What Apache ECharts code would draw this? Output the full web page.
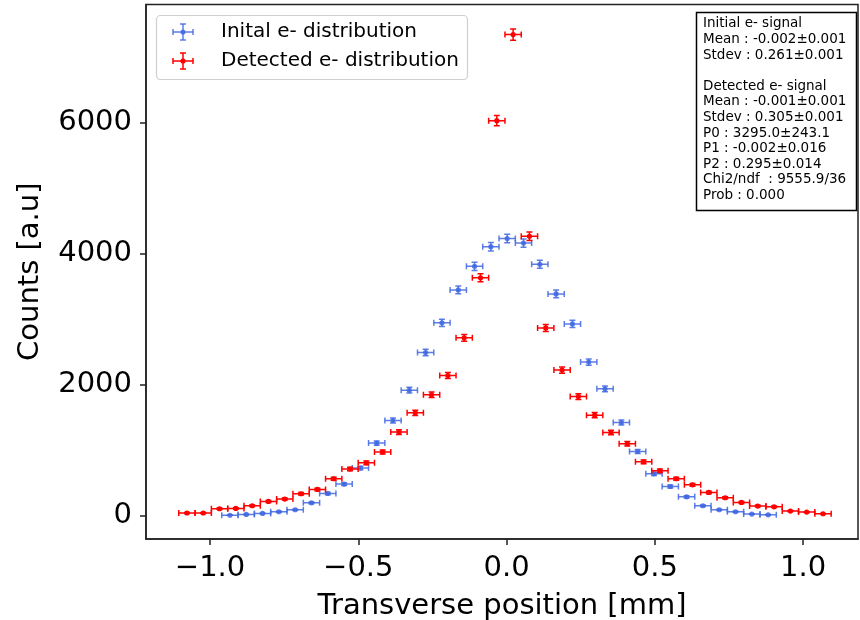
<!DOCTYPE html>
<html>
<head>
<meta charset="utf-8">
<script src="https://cdn.jsdelivr.net/npm/echarts@6/dist/echarts.min.js"></script>
<style>html,body{margin:0;padding:0;background:#fff}#c{width:860px;height:620px}</style>
</head>
<body>
<div id="c"></div>
<script>
// ---- data ----
const initialX = [-0.933,-0.878,-0.823,-0.768,-0.713,-0.658,-0.603,-0.548,-0.493,-0.438,-0.383,-0.328,-0.273,-0.218,-0.163,-0.108,-0.053,0.002,0.057,0.112,0.167,0.222,0.277,0.332,0.387,0.442,0.497,0.552,0.607,0.662,0.717,0.772,0.827,0.882];
const initialCounts = [3,15,30,56,87,193,335,479,723,1105,1450,1914,2488,2942,3445,3805,4105,4230,4160,3837,3384,2926,2342,1934,1420,977,636,442,285,148,87,56,21,10];
const detectedX = [-1.078,-1.023,-0.968,-0.913,-0.858,-0.803,-0.748,-0.693,-0.638,-0.583,-0.528,-0.473,-0.418,-0.363,-0.308,-0.253,-0.198,-0.143,-0.088,-0.033,0.022,0.077,0.132,0.187,0.242,0.297,0.352,0.407,0.462,0.517,0.572,0.627,0.682,0.737,0.792,0.847,0.902,0.957,1.012,1.067];
const detectedCounts = [37,37,102,107,148,214,250,331,397,560,708,804,968,1273,1568,1843,2137,2713,3630,6030,7345,4265,2865,2220,1815,1532,1267,1095,820,682,560,468,351,270,198,143,132,67,51,26];
const binHalfWidth = 0.0275;
const xTicks = [-1.0,-0.5,0.0,0.5,1.0];
const yTicks = [0,2000,4000,6000];
const seriesNames = ['Inital e- distribution','Detected e- distribution'];
const statsLines = ['Initial e- signal','Mean : -0.002±0.001','Stdev : 0.261±0.001','','Detected e- signal','Mean : -0.001±0.001','Stdev : 0.305±0.001','P0 : 3295.0±243.1','P1 : -0.002±0.016','P2 : 0.295±0.014','Chi2/ndf  : 9555.9/36','Prob : 0.000'];

const BLUE = 'rgba(65,105,225,0.85)';
const RED = '#ff0000';
const FONT = 'DejaVu Sans';

function build(xs, ys){
  return xs.map((x,i)=>[x, ys[i], binHalfWidth, Math.sqrt(ys[i])]);
}

function errRender(color){
  return function(params, api){
    const x = api.value(0), y = api.value(1), ex = api.value(2), ey = api.value(3);
    const c = api.coord([x,y]);
    const l = api.coord([x-ex,y]);
    const r = api.coord([x+ex,y]);
    const t = api.coord([x,y+ey]);
    const b = api.coord([x,y-ey]);
    const cap = 3;
    const st = {stroke: color, lineWidth: 1.5};
    const children = [
      {type:'line', shape:{x1:l[0],y1:c[1],x2:r[0],y2:c[1]}, style:st},
      {type:'line', shape:{x1:l[0],y1:c[1]-cap,x2:l[0],y2:c[1]+cap}, style:st},
      {type:'line', shape:{x1:r[0],y1:c[1]-cap,x2:r[0],y2:c[1]+cap}, style:st},
      {type:'line', shape:{x1:c[0],y1:t[1],x2:c[0],y2:b[1]}, style:st},
      {type:'line', shape:{x1:c[0]-cap,y1:t[1],x2:c[0]+cap,y2:t[1]}, style:st},
      {type:'line', shape:{x1:c[0]-cap,y1:b[1],x2:c[0]+cap,y2:b[1]}, style:st},
      {type:'circle', shape:{cx:c[0],cy:c[1],r:2.6}, style:{fill:color}}
    ];
    return {type:'group', children};
  };
}

function legendIcon(cx, cy, color){
  const st = {stroke: color, lineWidth: 1.5};
  return [
    {type:'line', shape:{x1:cx-10,y1:cy,x2:cx+10,y2:cy}, style:st},
    {type:'line', shape:{x1:cx-10,y1:cy-3,x2:cx-10,y2:cy+3}, style:st},
    {type:'line', shape:{x1:cx+10,y1:cy-3,x2:cx+10,y2:cy+3}, style:st},
    {type:'line', shape:{x1:cx,y1:cy-8,x2:cx,y2:cy+8}, style:st},
    {type:'line', shape:{x1:cx-3,y1:cy-8,x2:cx+3,y2:cy-8}, style:st},
    {type:'line', shape:{x1:cx-3,y1:cy+8,x2:cx+3,y2:cy+8}, style:st},
    {type:'circle', shape:{cx:cx,cy:cy,r:2.6}, style:{fill:color}}
  ];
}

const chart = echarts.init(document.getElementById('c'), null, {renderer:'canvas'});
const option = {
  animation: false,
  backgroundColor: '#fff',
  grid: {left:146, right:2, top:4.5, bottom:81, containLabel:false, outerBoundsMode:'none',
         show:true, borderColor:'#222', borderWidth:1.5, backgroundColor:'transparent'},
  xAxis: {
    type:'value', min:-1.216, max:1.185,
    name:'Transverse position [mm]', nameLocation:'middle', nameGap:53,
    nameTextStyle:{fontFamily:FONT, fontSize:29, color:'#000'},
    axisLine:{show:true, onZero:false, lineStyle:{color:'#222', width:1.5}},
    axisTick:{show:true, customValues:xTicks, length:6, lineStyle:{color:'#222', width:1.5}},
    axisLabel:{show:true, customValues:xTicks, margin:15, fontFamily:FONT, fontSize:29, color:'#000',
      formatter:(v)=> (v<0?'\u2212':'') + Math.abs(v).toFixed(1)},
    splitLine:{show:false}
  },
  yAxis: {
    type:'value', min:-360, max:7805,
    name:'Counts [a.u]', nameLocation:'middle', nameGap:101, nameRotate:90,
    nameTextStyle:{fontFamily:FONT, fontSize:29, color:'#000'},
    axisLine:{show:true, onZero:false, lineStyle:{color:'#222', width:1.5}},
    axisTick:{show:true, customValues:yTicks, length:6, lineStyle:{color:'#222', width:1.5}},
    axisLabel:{show:true, customValues:yTicks, margin:14, fontFamily:FONT, fontSize:29, color:'#000',
      formatter:(v)=> String(v)},
    splitLine:{show:false}
  },
  series: [
    {type:'custom', name:seriesNames[0], data:build(initialX, initialCounts), renderItem:errRender(BLUE), encode:{x:0,y:1}, clip:true, z:2},
    {type:'custom', name:seriesNames[1], data:build(detectedX, detectedCounts), renderItem:errRender(RED), encode:{x:0,y:1}, clip:true, z:3}
  ],
  graphic: [
    {type:'group', z:100, children:[
      {type:'rect', shape:{x:156.5,y:15.5,width:311,height:64,r:4}, style:{fill:'rgba(255,255,255,0.85)', stroke:'#d0d0d0', lineWidth:1.2}},
      ...legendIcon(183, 32, BLUE),
      ...legendIcon(183, 61, RED),
      {type:'text', x:221, y:32, style:{text:seriesNames[0], font:'20px "DejaVu Sans"', fill:'#000', verticalAlign:'middle'}},
      {type:'text', x:221, y:61, style:{text:seriesNames[1], font:'20px "DejaVu Sans"', fill:'#000', verticalAlign:'middle'}}
    ]},
    {type:'group', z:100, children:[
      {type:'rect', shape:{x:696.5,y:12.5,width:160,height:198}, style:{fill:'#fff', stroke:'#000', lineWidth:1.5}},
      {type:'text', x:703, y:16, style:{text:statsLines.join('\n'), font:'13.5px "DejaVu Sans"', lineHeight:15.6, fill:'#000', verticalAlign:'top'}}
    ]}
  ]
};
chart.setOption(option);
</script>
</body>
</html>
